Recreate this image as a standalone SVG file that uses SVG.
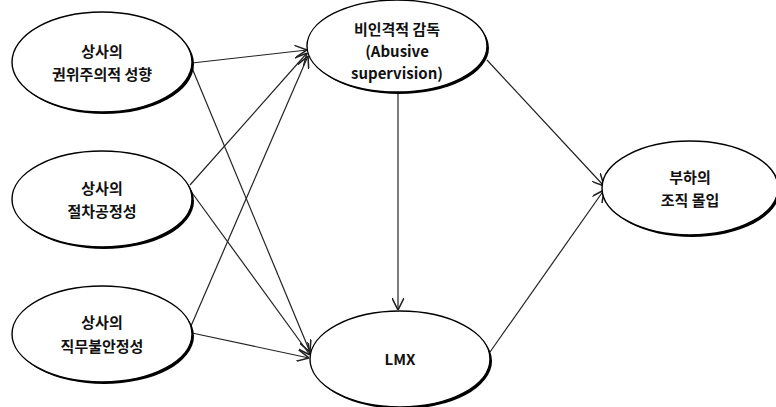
<svg xmlns="http://www.w3.org/2000/svg" width="776" height="407" viewBox="0 0 776 407">
<style>
.sh{fill:#000;stroke:none}
.el{fill:#fff;stroke:#000;stroke-width:1.4}
.t{font-family:"Noto Sans CJK KR","Liberation Sans",sans-serif;font-size:15px;font-weight:600;fill:#111;text-anchor:middle;dominant-baseline:central}
.c{stroke:#222;stroke-width:1.2;fill:none;marker-end:url(#ar)}
</style>
<defs>
<marker id="ar" markerWidth="12" markerHeight="12" refX="10" refY="5" orient="auto" markerUnits="userSpaceOnUse" viewBox="0 0 10 10">
<path d="M0,0 L10,5 L0,10" fill="none" stroke="#222" stroke-width="1.3"/>
</marker>
</defs>
<rect width="776" height="407" fill="#fff"/>
<g id="connectors">
<line class="c" x1="192" y1="63" x2="307" y2="50"/>
<line class="c" x1="192" y1="68" x2="310" y2="352"/>
<line class="c" x1="190" y1="185" x2="307" y2="53"/>
<line class="c" x1="190" y1="190" x2="310" y2="355"/>
<line class="c" x1="191" y1="326" x2="308" y2="56"/>
<line class="c" x1="192" y1="333" x2="309" y2="358"/>
<line class="c" x1="398" y1="93" x2="398" y2="310"/>
<line class="c" x1="487" y1="60" x2="604" y2="186"/>
<line class="c" x1="490" y1="352" x2="604" y2="190"/>
</g>
<g id="n1">
<ellipse class="sh" cx="104" cy="64" rx="90" ry="50"/>
<ellipse class="el" cx="102" cy="62" rx="90" ry="50"/>
<text class="t" x="102" y="50">상사의</text>
<text class="t" x="102" y="73">권위주의적 성향</text>
</g>
<g id="n2">
<ellipse class="sh" cx="104" cy="201" rx="90" ry="48"/>
<ellipse class="el" cx="102" cy="199" rx="90" ry="48"/>
<text class="t" x="102" y="187">상사의</text>
<text class="t" x="102" y="210">절차공정성</text>
</g>
<g id="n3">
<ellipse class="sh" cx="104" cy="336" rx="90" ry="48"/>
<ellipse class="el" cx="102" cy="334" rx="90" ry="48"/>
<text class="t" x="102" y="321">상사의</text>
<text class="t" x="102" y="345">직무불안정성</text>
</g>
<g id="n4">
<ellipse class="sh" cx="399" cy="48" rx="90" ry="46"/>
<ellipse class="el" cx="397" cy="46" rx="90" ry="46"/>
<text class="t" x="397" y="28">비인격적 감독</text>
<text class="t" x="397" y="50">(Abusive</text>
<text class="t" x="397" y="72">supervision)</text>
</g>
<g id="n5">
<ellipse class="sh" cx="402" cy="361" rx="90" ry="48"/>
<ellipse class="el" cx="400" cy="359" rx="90" ry="48"/>
<text class="t" x="400" y="358">LMX</text>
</g>
<g id="n6">
<ellipse class="sh" cx="692" cy="190" rx="88" ry="47"/>
<ellipse class="el" cx="690" cy="188" rx="88" ry="47"/>
<text class="t" x="690" y="176">부하의</text>
<text class="t" x="690" y="199">조직 몰입</text>
</g>
</svg>
